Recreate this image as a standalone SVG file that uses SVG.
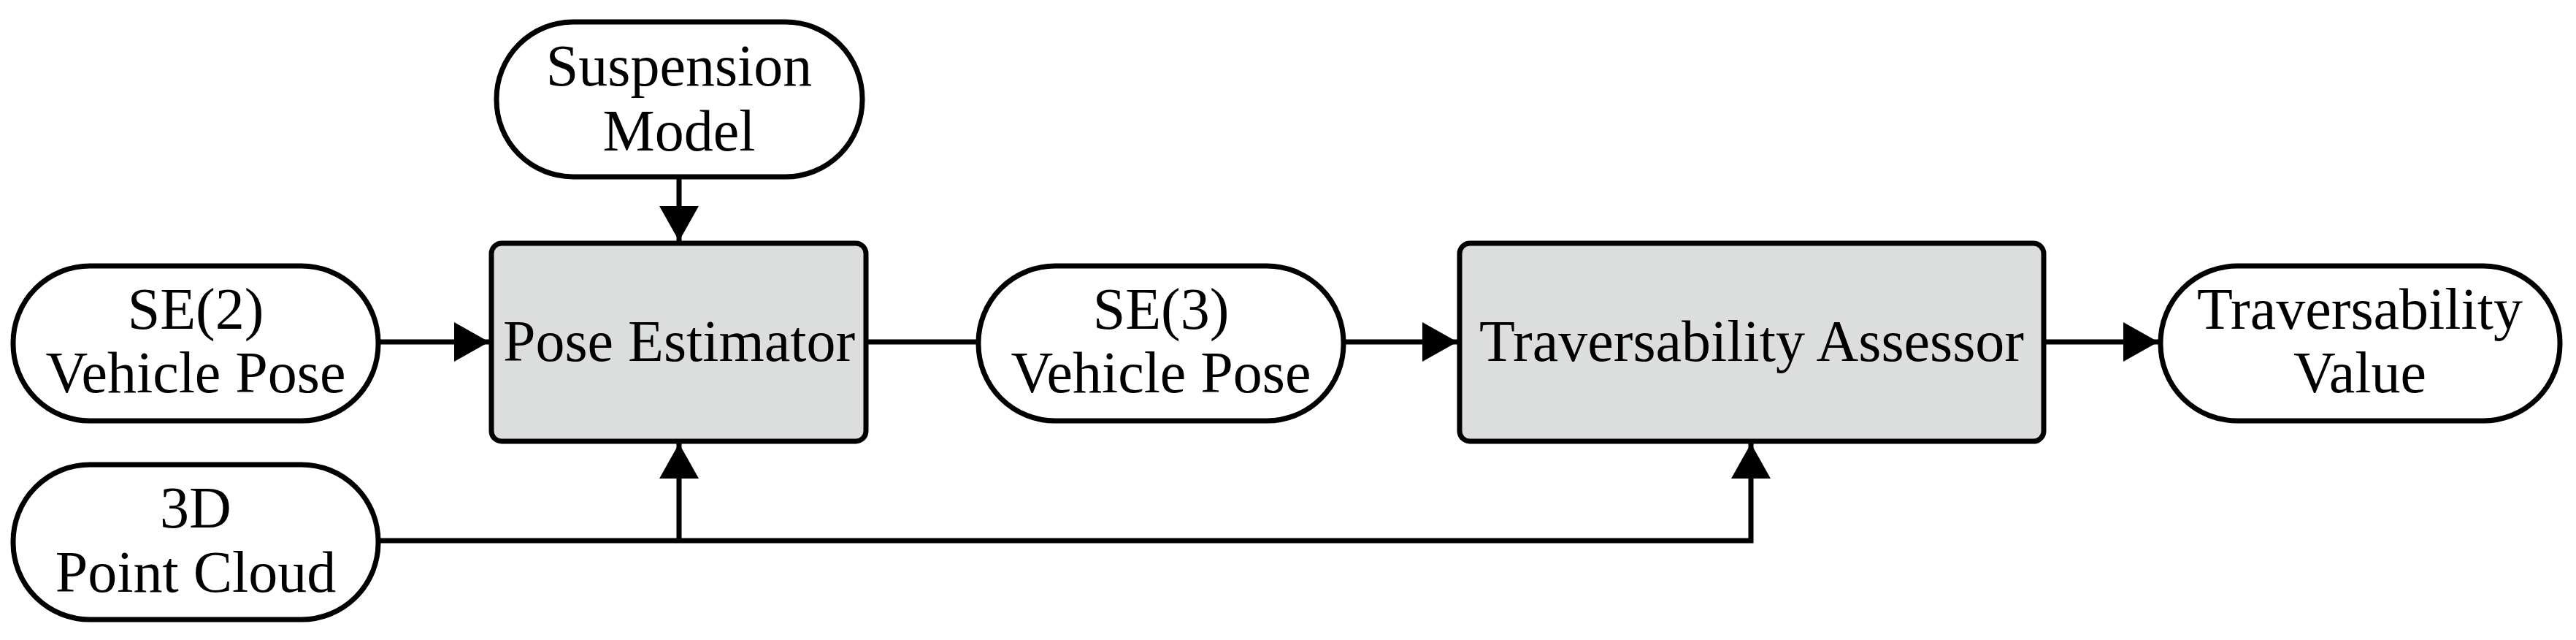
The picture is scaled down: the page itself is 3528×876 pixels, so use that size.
<svg xmlns="http://www.w3.org/2000/svg" width="3528" height="876" viewBox="0 0 3528 876">
<style>
.pill{fill:#fff;stroke:#000;stroke-width:7}
.box{fill:#dcdedd;stroke:#000;stroke-width:7}
text{font-family:"Liberation Serif",serif;font-size:80px;text-anchor:middle;fill:#000}
.c{fill:none;stroke:#000;stroke-width:7}
</style>
<defs>
<marker id="a" markerUnits="userSpaceOnUse" markerWidth="50" markerHeight="54" refX="48" refY="27" orient="auto"><path d="M0,0 L48,27 L0,54 Z" fill="#000"/></marker>
</defs>
<rect width="3528" height="876" fill="#fff"/>
<g id="connectors">
<path class="c" d="M930,240 V330" marker-end="url(#a)"/>
<path class="c" d="M518,468 H670" marker-end="url(#a)"/>
<path class="c" d="M1186,468 H1340"/>
<path class="c" d="M1840,468 H1996" marker-end="url(#a)"/>
<path class="c" d="M2800,468 H2956" marker-end="url(#a)"/>
<path class="c" d="M518,740 H2398 V607" marker-end="url(#a)"/>
<path class="c" d="M930,740 V607" marker-end="url(#a)"/>
</g>
<g id="suspension"><rect class="pill" x="680" y="30" width="501" height="212" rx="105"/><text x="930" y="117">Suspension</text><text x="930" y="206">Model</text></g>
<g id="se2"><rect class="pill" x="18" y="364" width="500" height="212" rx="105"/><text x="268" y="450">SE(2)</text><text x="268" y="537">Vehicle Pose</text></g>
<g id="pointcloud"><rect class="pill" x="18" y="636" width="500" height="212" rx="105"/><text x="268" y="722">3D</text><text x="268" y="810">Point Cloud</text></g>
<g id="pose"><rect class="box" x="673" y="333" width="513" height="271" rx="14"/><text x="930" y="494">Pose Estimator</text></g>
<g id="se3"><rect class="pill" x="1340" y="364" width="500" height="212" rx="105"/><text x="1590" y="450">SE(3)</text><text x="1590" y="537">Vehicle Pose</text></g>
<g id="assessor"><rect class="box" x="1999" y="333" width="800" height="271" rx="14"/><text x="2399" y="494">Traversability Assessor</text></g>
<g id="value"><rect class="pill" x="2959" y="364" width="547" height="212" rx="105"/><text x="3232" y="450">Traversability</text><text x="3232" y="537">Value</text></g>
</svg>
